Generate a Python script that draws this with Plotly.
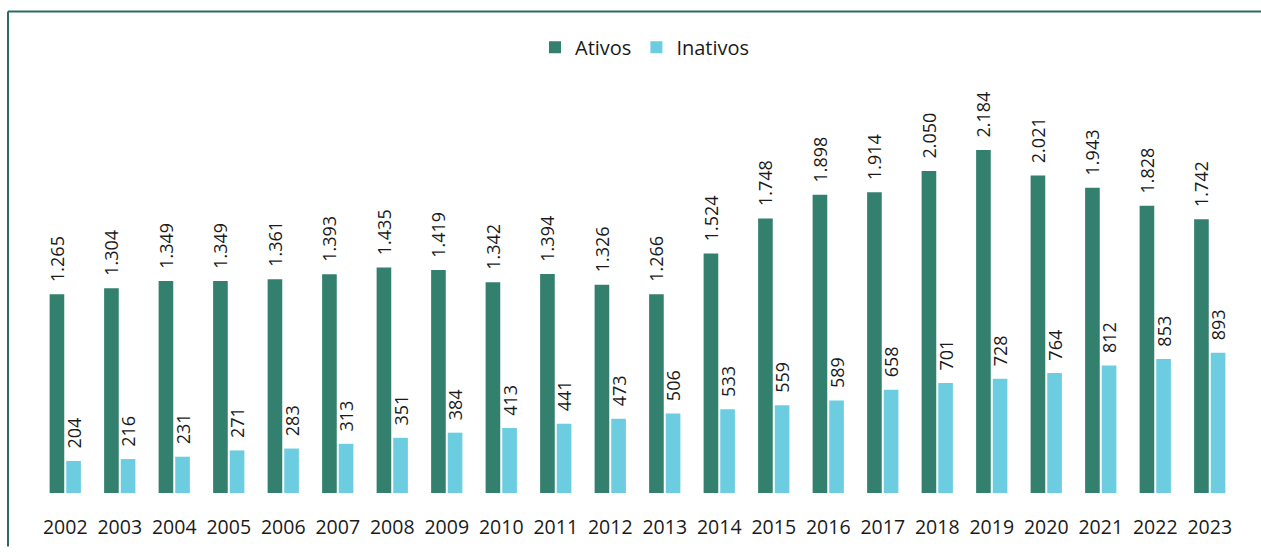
import plotly.graph_objects as go

years = [str(y) for y in range(2002, 2024)]
ativos = [1265, 1304, 1349, 1349, 1361, 1393, 1435, 1419, 1342, 1394, 1326,
          1266, 1524, 1748, 1898, 1914, 2050, 2184, 2021, 1943, 1828, 1742]
inativos = [204, 216, 231, 271, 283, 313, 351, 384, 413, 441, 473,
            506, 533, 559, 589, 658, 701, 728, 764, 812, 853, 893]

FONT = "Open Sans"
C_AT = "#33806f"
C_IN = "#6ccde0"
PAD = "\u00a0\u00a0"

fig = go.Figure()
fig.add_trace(go.Bar(
    name="Ativos", x=years, y=ativos, marker=dict(color=C_AT, line=dict(width=0)),
    texttemplate=PAD + "%{y:,}", textposition="outside", textangle=-90,
    constraintext="none", cliponaxis=False,
    textfont=dict(family=FONT, size=18, color="#1a1a1a"),
))
fig.add_trace(go.Bar(
    name="Inativos", x=years, y=inativos, marker=dict(color=C_IN, line=dict(width=0)),
    texttemplate=PAD + "%{y:,}", textposition="outside", textangle=-90,
    constraintext="none", cliponaxis=False,
    textfont=dict(family=FONT, size=18, color="#1a1a1a"),
))

L, R, T, B = 38, 24, 60, 54
W, H = 1261, 552
pw, ph = W - L - R, H - T - B

def px_x(x):
    return (x - L) / pw

def px_y(y):
    return (H - B - y) / ph

border = "#2a6b63"
fig.add_shape(type="line", xref="paper", yref="paper",
              x0=px_x(8), x1=px_x(W), y0=px_y(11), y1=px_y(11),
              line=dict(color=border, width=2))
fig.add_shape(type="line", xref="paper", yref="paper",
              x0=px_x(8), x1=px_x(8), y0=px_y(11), y1=px_y(H),
              line=dict(color=border, width=2))

fig.update_layout(
    width=W, height=H,
    margin=dict(l=L, r=R, t=T, b=B),
    paper_bgcolor="white", plot_bgcolor="white",
    barmode="group", bargap=0.39, bargroupgap=0.12,
    separators=",.",
    font=dict(family=FONT, color="#1a1a1a"),
    showlegend=True,
    legend=dict(orientation="h", x=px_x(645), xanchor="center",
                y=px_y(47), yanchor="middle",
                font=dict(family=FONT, size=20, color="#1a1a1a"),
                itemwidth=30, traceorder="normal"),
    xaxis=dict(type="category", showline=False, showgrid=False, ticks="",
               tickfont=dict(family=FONT, size=19.5, color="#1a1a1a"),
               ticklabelstandoff=20, fixedrange=True),
    yaxis=dict(visible=False, range=[0, ph / 0.1589], fixedrange=True),
    hovermode=False,
)

fig.write_html(
    "out.html", config={"displayModeBar": False},
    post_script=(
        "document.documentElement.style.cssText='margin:0;padding:0;overflow:hidden;height:552px;width:1261px';"
        "document.body.style.cssText='margin:0;padding:0;overflow:hidden;height:552px;width:1261px';"
        "var g=document.getElementById('{plot_id}');"
        "if(g&&g.parentElement){g.parentElement.style.cssText='height:552px;width:1261px;overflow:hidden;line-height:0';}"
    ),
)
